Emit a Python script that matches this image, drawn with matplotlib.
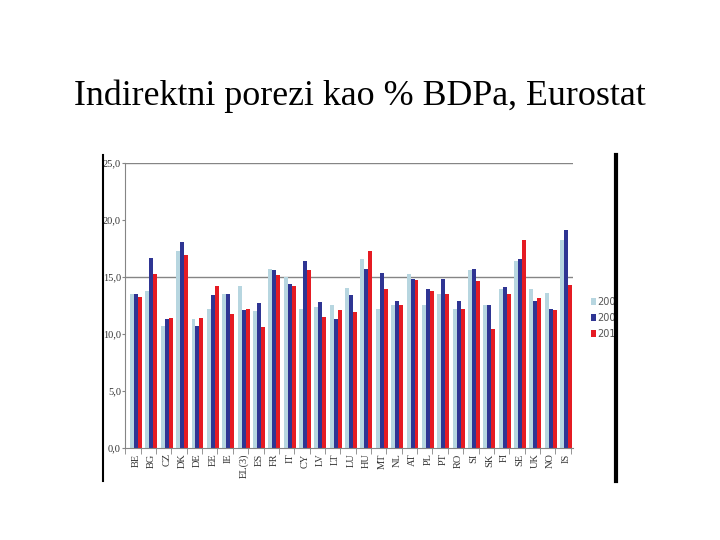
import matplotlib
matplotlib.use("Agg")
import matplotlib.pyplot as plt
from matplotlib.patches import Rectangle
from matplotlib.lines import Line2D
import numpy as np

countries = ["BE", "BG", "CZ", "DK", "DE", "EE", "IE", "EL(3)", "ES", "FR", "IT", "CY",
             "LV", "LT", "LU", "HU", "MT", "NL", "AT", "PL", "PT", "RO", "SI", "SK",
             "FI", "SE", "UK", "NO", "IS"]
v2000 = [13.5, 13.7, 10.7, 17.2, 11.25, 12.2, 13.45, 14.2, 11.95, 15.7, 15.0, 12.15,
         12.3, 12.5, 14.0, 16.5, 12.2, 12.5, 15.2, 12.55, 13.45, 12.15, 15.6, 12.5,
         13.9, 16.35, 13.9, 13.55, 18.2]
v2005 = [13.45, 16.6, 11.25, 18.0, 10.7, 13.35, 13.5, 12.05, 12.65, 15.6, 14.35, 16.4,
         12.75, 11.25, 13.35, 15.7, 15.35, 12.85, 14.75, 13.9, 14.75, 12.85, 15.7, 12.55,
         14.05, 16.55, 12.9, 12.15, 19.05]
v2010 = [13.25, 15.2, 11.4, 16.9, 11.35, 14.2, 11.7, 12.2, 10.55, 15.1, 14.2, 15.55,
         11.45, 12.05, 11.9, 17.2, 13.9, 12.5, 14.7, 13.7, 13.5, 12.2, 14.6, 10.4,
         13.45, 18.2, 13.1, 12.05, 14.25]
series_names = ["2000", "2005", "2010"]
yticks = [0, 5, 10, 15, 20, 25]
ytick_labels = ["0,0", "5,0", "10,0", "15,0", "20,0", "25,0"]

W, H = 720, 540
fig = plt.figure(figsize=(7.2, 5.4), dpi=100)

fig.text(360 / W, 1 - 96 / H, "Indirektni porezi kao % BDPa, Eurostat",
         ha="center", va="center", fontsize=25.8, family="Liberation Serif")

left, right, top, bottom = 125, 573, 162.5, 447.7
ax = fig.add_axes([left / W, 1 - bottom / H, (right - left) / W, (bottom - top) / H])

x = np.arange(len(countries))
bw = 0.26
colors = ["#b7d6e0", "#2f3593", "#e51b23"]
for i, (vals, c, name) in enumerate(zip([v2000, v2005, v2010], colors, series_names)):
    ax.bar(x + (i - 1) * bw, vals, width=bw, color=c, label=name, zorder=2)

ax.set_ylim(0, 25)
ax.set_xlim(-0.72, len(countries) - 1 + 0.45)
for y in [15, 25]:
    ax.axhline(y, color="#858585", lw=1.0, zorder=1)

for s in ["top", "right"]:
    ax.spines[s].set_visible(False)
ax.spines["left"].set_color("#858585")
ax.spines["bottom"].set_color("#858585")

ax.set_yticks(yticks)
ax.set_yticklabels(ytick_labels, family="Liberation Serif", fontsize=7.5, color="#333333")
ax.tick_params(axis="y", length=2.5, color="#858585", pad=0.5)

ax.set_xticks(x)
ax.set_xticklabels(countries, rotation=90, family="Liberation Serif", fontsize=7.5,
                   color="#333333")
ax.tick_params(axis="x", length=0, pad=4)
ax.set_xticks(np.arange(len(countries) + 1) - 0.5 - 0.2, minor=True)
ax.tick_params(axis="x", which="minor", length=4, color="#858585")

leg = ax.legend(loc="center left", bbox_to_anchor=(586 / W, 1 - 318 / H),
                bbox_transform=fig.transFigure, frameon=False, fontsize=7,
                handlelength=0.5, handleheight=0.7, handletextpad=0.15,
                labelspacing=0.6, borderpad=0)
for t in leg.get_texts():
    t.set_color("#555555")

# cropped picture edges
fig.patches.append(Rectangle((0, 1 - 485 / H), 103 / W, 335 / H, transform=fig.transFigure,
                             facecolor="white", edgecolor="none", zorder=10))
fig.patches.append(Rectangle((614 / W, 1 - 485 / H), 1 - 614 / W, 335 / H,
                             transform=fig.transFigure,
                             facecolor="white", edgecolor="none", zorder=10))
fig.lines.append(Line2D([103.5 / W, 103.5 / W], [1 - 155 / H, 1 - 481 / H],
                        transform=fig.transFigure, color="black", lw=1.5, zorder=11))
fig.lines.append(Line2D([615.5 / W, 615.5 / W], [1 - 155 / H, 1 - 481 / H],
                        transform=fig.transFigure, color="black", lw=3, zorder=11))

fig.savefig("out.png", dpi=100)
